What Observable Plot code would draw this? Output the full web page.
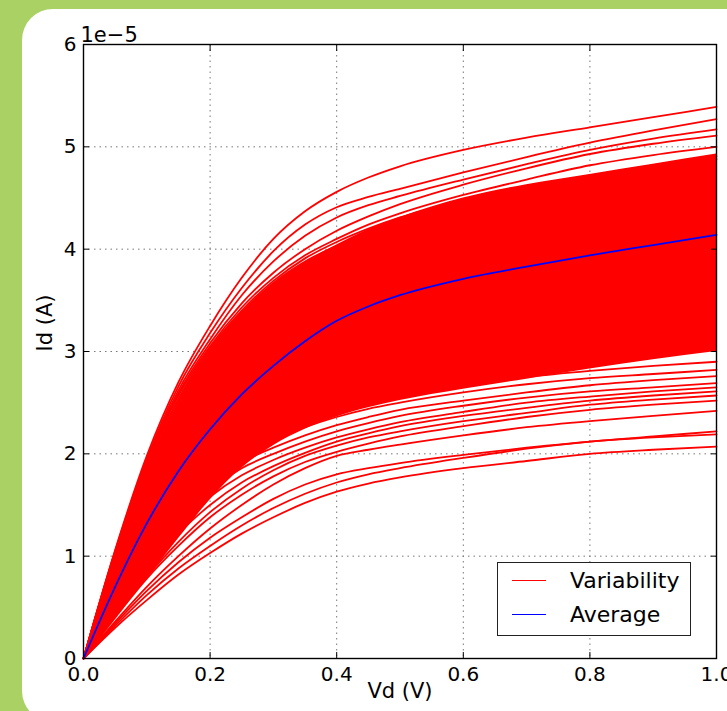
<!DOCTYPE html>
<html>
<head>
<meta charset="utf-8">
<script src="https://cdn.jsdelivr.net/npm/d3@7"></script>
<script src="https://cdn.jsdelivr.net/npm/@observablehq/plot@0.6"></script>
<style>
  html, body { margin: 0; padding: 0; }
  body { width: 727px; height: 711px; overflow: hidden; background: #aad163; position: relative; font-family: "DejaVu Sans", sans-serif; }
  #panel { position: absolute; left: 22px; top: 9px; width: 740px; height: 713px; background: #fff; border-radius: 31px; }
  #chart { position: absolute; left: 0; top: 0; }
  #legend { position: absolute; left: 497px; top: 562px; width: 192px; height: 72px; border: 1.3px solid #222; background: #fff; font-size: 22px; color: #000; }
  .lg-row { position: absolute; left: 0; height: 30px; }
  .lg-line { position: absolute; left: 14px; width: 34px; height: 0; border-top: 1.6px solid; }
  .lg-text { position: absolute; left: 72px; white-space: nowrap; line-height: 1; }
</style>
</head>
<body>
<div id="panel"></div>
<div id="chart"></div>
<div id="legend"></div>
<script>
// ---- data (Id in units of 1e-5 A) ----
const vd = [0, 0.05, 0.1, 0.15, 0.2, 0.25, 0.3, 0.35, 0.4, 0.45, 0.5, 0.6, 0.7, 0.8, 0.9, 1.0];

const average = [0, 0.7, 1.32, 1.83, 2.24, 2.58, 2.86, 3.1, 3.3, 3.44, 3.55, 3.71, 3.83, 3.94, 4.04, 4.14];

// dense core of the variability curves (lower / upper envelope)
const coreLow  = [0, 0.4, 0.78, 1.17, 1.55, 1.86, 2.08, 2.24, 2.36, 2.45, 2.52, 2.63, 2.73, 2.83, 2.92, 3.0];
const coreHigh = [0, 1.0, 1.85, 2.5, 3.0, 3.38, 3.66, 3.87, 4.04, 4.19, 4.31, 4.5, 4.63, 4.73, 4.83, 4.93];

// individually visible curves above the core
const curveT1 = [0, 1.06, 1.98, 2.7, 3.25, 3.72, 4.1, 4.37, 4.56, 4.7, 4.81, 4.97, 5.09, 5.19, 5.29, 5.39];
const curveT2 = [0, 1.05, 1.95, 2.66, 3.18, 3.62, 3.98, 4.24, 4.41, 4.51, 4.59, 4.75, 4.9, 5.04, 5.16, 5.27];
const curveT3 = [0, 1.04, 1.93, 2.62, 3.12, 3.55, 3.88, 4.13, 4.31, 4.43, 4.52, 4.68, 4.83, 4.97, 5.08, 5.17];
const curveT4 = [0, 1.03, 1.91, 2.59, 3.08, 3.47, 3.77, 4.0, 4.18, 4.32, 4.44, 4.63, 4.79, 4.93, 5.03, 5.11];
const curveT5 = [0, 1.02, 1.9, 2.57, 3.05, 3.43, 3.72, 3.94, 4.1, 4.24, 4.35, 4.53, 4.68, 4.82, 4.92, 5.0];
const curveU1 = [0, 1.01, 1.88, 2.54, 3.03, 3.4, 3.69, 3.91, 4.07, 4.2, 4.31, 4.47, 4.6, 4.72, 4.82, 4.91];
const curveU2 = [0, 1.0, 1.87, 2.52, 3.01, 3.38, 3.67, 3.88, 4.03, 4.14, 4.24, 4.41, 4.55, 4.67, 4.78, 4.88];

// individually visible curves below the core
const curveL1  = [0, 0.3, 0.57, 0.82, 1.03, 1.22, 1.38, 1.52, 1.63, 1.71, 1.77, 1.86, 1.93, 2.0, 2.04, 2.07];
const curveL2  = [0, 0.32, 0.62, 0.88, 1.1, 1.3, 1.47, 1.61, 1.72, 1.8, 1.86, 1.96, 2.05, 2.12, 2.17, 2.22];
const curveL3  = [0, 0.34, 0.66, 0.94, 1.18, 1.38, 1.56, 1.7, 1.8, 1.86, 1.91, 1.99, 2.06, 2.12, 2.16, 2.19];
const curveL4  = [0, 0.36, 0.7, 1.0, 1.27, 1.5, 1.7, 1.86, 1.98, 2.04, 2.09, 2.18, 2.26, 2.32, 2.37, 2.42];
const curveL5  = [0, 0.4, 0.78, 1.1, 1.38, 1.6, 1.78, 1.92, 2.02, 2.1, 2.17, 2.27, 2.36, 2.43, 2.48, 2.52];
const curveL6  = [0, 0.42, 0.8, 1.14, 1.43, 1.66, 1.84, 1.98, 2.08, 2.16, 2.22, 2.32, 2.4, 2.48, 2.53, 2.57];
const curveL7  = [0, 0.45, 0.86, 1.22, 1.5, 1.72, 1.88, 2.01, 2.12, 2.2, 2.27, 2.37, 2.45, 2.52, 2.57, 2.61];
const curveL8  = [0, 0.48, 0.92, 1.3, 1.58, 1.79, 1.94, 2.06, 2.16, 2.24, 2.31, 2.41, 2.5, 2.56, 2.61, 2.65];
const curveL9  = [0, 0.5, 0.96, 1.36, 1.65, 1.86, 2.0, 2.12, 2.22, 2.3, 2.37, 2.47, 2.55, 2.61, 2.65, 2.69];
const curveL10 = [0, 0.52, 1.0, 1.42, 1.72, 1.92, 2.06, 2.18, 2.28, 2.36, 2.43, 2.52, 2.6, 2.67, 2.72, 2.76];
const curveL11 = [0, 0.54, 1.04, 1.48, 1.8, 2.0, 2.14, 2.26, 2.36, 2.44, 2.5, 2.6, 2.68, 2.74, 2.78, 2.82];
const curveL12 = [0, 0.55, 1.06, 1.52, 1.86, 2.06, 2.2, 2.32, 2.42, 2.5, 2.57, 2.67, 2.75, 2.81, 2.86, 2.9];

const xTicks = [0, 0.2, 0.4, 0.6, 0.8, 1.0];
const yTicks = [0, 1, 2, 3, 4, 5, 6];
const xLabel = "Vd (V)";
const yLabel = "Id (A)";
const offsetLabel = "1e\u22125";
const legendNames = ["Variability", "Average"];
const legendColors = ["#ff0000", "#0000ff"];

// ---- build tables ----
const redCurves = [curveT1, curveT2, curveT3, curveT4, curveT5, curveU1, curveU2,
  curveL1, curveL2, curveL3, curveL4, curveL5, curveL6, curveL7, curveL8, curveL9, curveL10, curveL11, curveL12];
const redRows = redCurves.flatMap((c, k) => c.map((v, i) => ({id: k, vd: vd[i], id_: v})));
const coreRows = vd.map((x, i) => ({vd: x, lo: coreLow[i], hi: coreHigh[i]}));
const avgRows = vd.map((x, i) => ({vd: x, id_: average[i]}));

const chart = Plot.plot({
  width: 727,
  height: 711,
  marginLeft: 83,
  marginRight: 11,
  marginTop: 44,
  marginBottom: 53,
  style: {fontFamily: "DejaVu Sans, sans-serif", fontSize: "20px", background: "transparent", color: "#000"},
  x: {domain: [0, 1]},
  y: {domain: [0, 6]},
  marks: [
    Plot.gridX(xTicks, {stroke: "#777", strokeOpacity: 1, strokeWidth: 1, strokeDasharray: "1.5,4"}),
    Plot.gridY(yTicks, {stroke: "#777", strokeOpacity: 1, strokeWidth: 1, strokeDasharray: "1.5,4"}),
    Plot.areaY(coreRows, {x: "vd", y1: "lo", y2: "hi", fill: "#ff0000", curve: "monotone-x"}),
    Plot.line(redRows, {x: "vd", y: "id_", z: "id", stroke: "#ff0000", strokeWidth: 1.8, curve: "monotone-x"}),
    Plot.line(avgRows, {x: "vd", y: "id_", stroke: "#0000ff", strokeWidth: 1.8, curve: "monotone-x"}),
    Plot.frame({stroke: "#000", strokeWidth: 1.4}),
    Plot.axisX(xTicks, {anchor: "bottom", tickSize: 0, tickPadding: 8, tickFormat: d3.format(".1f"), label: null}),
    Plot.axisX(xTicks, {anchor: "bottom", tickSize: -6, text: null, label: null}),
    Plot.axisX(xTicks, {anchor: "top", tickSize: -6, text: null, label: null}),
    Plot.axisY(yTicks, {anchor: "left", tickSize: 0, tickPadding: 7, tickFormat: d3.format("d"), label: null}),
    Plot.axisY(yTicks, {anchor: "left", tickSize: -6, text: null, label: null}),
    Plot.axisY(yTicks, {anchor: "right", tickSize: -6, text: null, label: null}),
    Plot.text([xLabel], {frameAnchor: "bottom", dy: 39, fontSize: 21}),
    Plot.text([yLabel], {frameAnchor: "left", dx: -38, rotate: -90, fontSize: 21}),
    Plot.text([offsetLabel], {frameAnchor: "top-left", textAnchor: "start", lineAnchor: "bottom", dx: -3, dy: -3, fontSize: 21})
  ]
});
document.getElementById("chart").appendChild(chart);

// legend
const legend = document.getElementById("legend");
legendNames.forEach((name, i) => {
  const row = document.createElement("div");
  row.className = "lg-row";
  row.style.top = (i * 34 + 3) + "px";
  const ln = document.createElement("div");
  ln.className = "lg-line";
  ln.style.borderTopColor = legendColors[i];
  ln.style.top = "14px";
  const tx = document.createElement("div");
  tx.className = "lg-text";
  tx.style.top = "4px";
  tx.textContent = name;
  row.appendChild(ln);
  row.appendChild(tx);
  legend.appendChild(row);
});
</script>
</body>
</html>
